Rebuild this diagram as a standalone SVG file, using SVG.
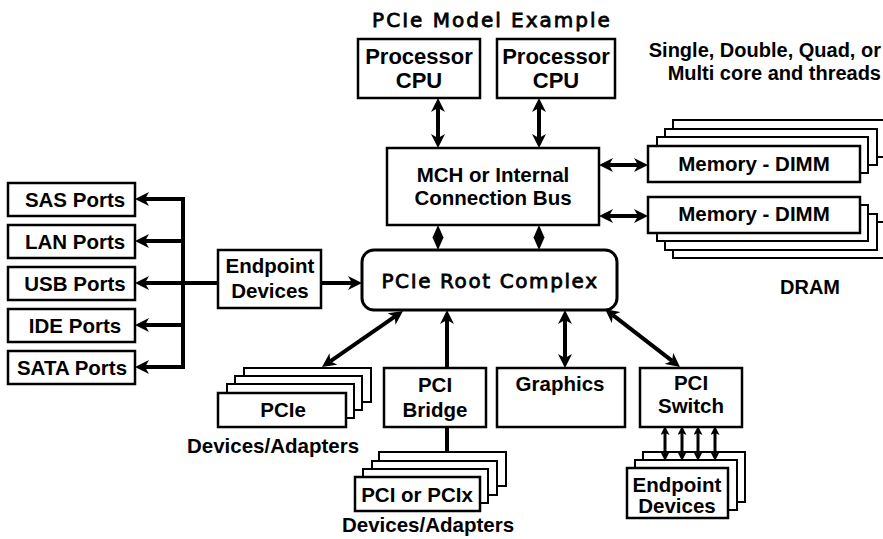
<svg xmlns="http://www.w3.org/2000/svg" width="883" height="539" viewBox="0 0 883 539">
<defs>
<style>
.box{fill:#fff;stroke:#000;stroke-width:2.5}
.card{fill:#fff;stroke:#000;stroke-width:2}
.b{font-family:"Liberation Sans",Arial,sans-serif;font-weight:bold;font-size:20.5px;text-anchor:middle;fill:#000}
.cpu{font-size:22px}
.note{font-family:"Liberation Sans",Arial,sans-serif;font-weight:bold;font-size:20px;text-anchor:end;fill:#000}
.w{font-family:"DejaVu Sans",Verdana,sans-serif;font-size:20px;text-anchor:middle;fill:#000;stroke:#000;stroke-width:0.8}
.ln{stroke:#000;stroke-width:4;fill:none}
.sm{stroke:#000;stroke-width:3;fill:none}
</style>
<marker id="ah" viewBox="0 0 14 14" refX="4" refY="7" markerWidth="14" markerHeight="14" markerUnits="userSpaceOnUse" orient="auto-start-reverse">
<path d="M0,0 L14,7 L0,14 L4,7 z" fill="#000"/>
</marker>
<marker id="as" viewBox="0 0 9 9" refX="2" refY="4.5" markerWidth="9" markerHeight="9" markerUnits="userSpaceOnUse" orient="auto-start-reverse">
<path d="M0,0 L9,4.5 L0,9 L2,4.5 z" fill="#000"/>
</marker>
</defs>
<rect width="883" height="539" fill="#fff"/>

<text id="title" class="w" x="492" y="27" style="letter-spacing:2px">PCIe Model Example</text>
<g id="note">
<text class="note" x="881" y="57">Single, Double, Quad, or</text>
<text class="note" x="881" y="80">Multi core and threads</text>
</g>
<text id="dram" class="b" x="810" y="294" style="font-size:20px">DRAM</text>

<g id="connectors">
<line class="ln" x1="438" y1="108" x2="438" y2="138" marker-start="url(#ah)" marker-end="url(#ah)"/>
<line class="ln" x1="539" y1="108" x2="539" y2="138" marker-start="url(#ah)" marker-end="url(#ah)"/>
<line class="ln" x1="609" y1="165" x2="638" y2="165" marker-start="url(#ah)" marker-end="url(#ah)"/>
<line class="ln" x1="609" y1="216" x2="638" y2="216" marker-start="url(#ah)" marker-end="url(#ah)"/>
<polygon points="438,225 443.5,237.5 438,250 432.5,237.5" fill="#000"/>
<polygon points="539,225 544.5,237.5 539,250 533.5,237.5" fill="#000"/>
<line class="ln" x1="183" y1="197" x2="183" y2="369"/>
<line class="ln" x1="185" y1="199" x2="145" y2="199" marker-end="url(#ah)"/>
<line class="ln" x1="185" y1="241" x2="145" y2="241" marker-end="url(#ah)"/>
<line class="ln" x1="218" y1="283" x2="145" y2="283" marker-end="url(#ah)"/>
<line class="ln" x1="185" y1="325" x2="145" y2="325" marker-end="url(#ah)"/>
<line class="ln" x1="185" y1="367" x2="145" y2="367" marker-end="url(#ah)"/>
<line class="ln" x1="321" y1="283" x2="352" y2="283" marker-end="url(#ah)"/>
<line class="ln" x1="394.8" y1="316.7" x2="330.2" y2="361.3" marker-start="url(#ah)" marker-end="url(#ah)"/>
<line class="ln" x1="447" y1="368" x2="447" y2="320" marker-end="url(#ah)"/>
<line class="ln" x1="565" y1="320" x2="565" y2="358" marker-start="url(#ah)" marker-end="url(#ah)"/>
<line class="ln" x1="612.9" y1="315.1" x2="672.1" y2="360.9" marker-start="url(#ah)" marker-end="url(#ah)"/>
<line class="ln" x1="447" y1="427" x2="447" y2="453"/>
</g>

<g id="cpu1"><rect class="box" x="358" y="39" width="122" height="59"/><text class="b cpu" x="419" y="64">Processor</text><text class="b cpu" x="419" y="88">CPU</text></g>
<g id="cpu2"><rect class="box" x="497" y="39" width="118" height="59"/><text class="b cpu" x="556" y="64">Processor</text><text class="b cpu" x="556" y="88">CPU</text></g>

<g id="mch"><rect class="box" x="387" y="148" width="212" height="77"/><text class="b" x="493" y="182">MCH or Internal</text><text class="b" x="493" y="205">Connection Bus</text></g>

<g id="mem1">
<rect class="card" x="673" y="120" width="230" height="37"/>
<rect class="card" x="665" y="129" width="212" height="36"/>
<rect class="card" x="657" y="137" width="211" height="36"/>
<rect class="box" x="648" y="146" width="212" height="36"/><text class="b" x="754" y="171">Memory - DIMM</text>
</g>
<g id="mem2">
<rect class="card" x="673" y="222" width="230" height="36"/>
<rect class="card" x="665" y="214" width="212" height="36"/>
<rect class="card" x="657" y="205" width="211" height="36"/>
<rect class="box" x="648" y="197" width="212" height="36"/><text class="b" x="754" y="221">Memory - DIMM</text>
</g>

<g id="sas"><rect class="box" x="8" y="183" width="127" height="33"/><text class="b" x="75" y="207">SAS Ports</text></g>
<g id="lan"><rect class="box" x="8" y="225" width="127" height="33"/><text class="b" x="75" y="249">LAN Ports</text></g>
<g id="usb"><rect class="box" x="8" y="267" width="127" height="33"/><text class="b" x="75" y="291">USB Ports</text></g>
<g id="ide"><rect class="box" x="8" y="309" width="127" height="33"/><text class="b" x="75" y="333">IDE Ports</text></g>
<g id="sata"><rect class="box" x="8" y="351" width="127" height="33"/><text class="b" x="72" y="375">SATA Ports</text></g>

<g id="endpoint"><rect class="box" x="218" y="250" width="103" height="58"/><text class="b" x="270" y="273">Endpoint</text><text class="b" x="270" y="298">Devices</text></g>

<g id="root"><rect x="362" y="250" width="255" height="60" rx="12" fill="#fff" stroke="#000" stroke-width="3"/><text class="w" x="490" y="288" style="letter-spacing:1.6px">PCIe Root Complex</text></g>

<g id="pcie">
<rect class="card" x="244" y="368" width="127" height="34"/>
<rect class="card" x="235" y="376" width="127" height="34"/>
<rect class="card" x="227" y="384" width="127" height="34"/>
<rect class="box" x="218" y="393" width="128" height="34"/><text class="b" x="283" y="417">PCIe</text>
</g>
<text id="devad1" class="b" x="273" y="453">Devices/Adapters</text>

<g id="bridge"><rect class="box" x="384" y="368" width="102" height="59"/><text class="b" x="435" y="392">PCI</text><text class="b" x="435" y="417">Bridge</text></g>
<g id="graphics"><rect class="box" x="497" y="368" width="128" height="59"/><text class="b" x="560" y="391">Graphics</text></g>
<g id="switch"><rect class="box" x="640" y="368" width="102" height="59"/><text class="b" x="691" y="390">PCI</text><text class="b" x="691" y="413">Switch</text></g>

<g id="pcix">
<rect class="card" x="379" y="452" width="127" height="34"/>
<rect class="card" x="372" y="461" width="125" height="34"/>
<rect class="card" x="363" y="469" width="125" height="34"/>
<rect class="box" x="355" y="477" width="125" height="34"/><text class="b" x="417" y="502">PCI or PCIx</text>
</g>
<text id="devad2" class="b" x="428" y="532">Devices/Adapters</text>

<g id="endpoints2">
<rect class="card" x="643" y="452" width="102" height="50"/>
<rect class="card" x="635" y="460" width="102" height="50"/>
<rect class="box" x="627" y="468" width="101" height="50"/><text class="b" x="677" y="492">Endpoint</text><text class="b" x="677" y="513">Devices</text>
</g>

<g id="switch-links">
<line class="sm" x1="665" y1="433" x2="665" y2="454" marker-start="url(#as)" marker-end="url(#as)"/>
<line class="sm" x1="682" y1="433" x2="682" y2="454" marker-start="url(#as)" marker-end="url(#as)"/>
<line class="sm" x1="698" y1="433" x2="698" y2="454" marker-start="url(#as)" marker-end="url(#as)"/>
<line class="sm" x1="715" y1="433" x2="715" y2="454" marker-start="url(#as)" marker-end="url(#as)"/>
</g>
</svg>
